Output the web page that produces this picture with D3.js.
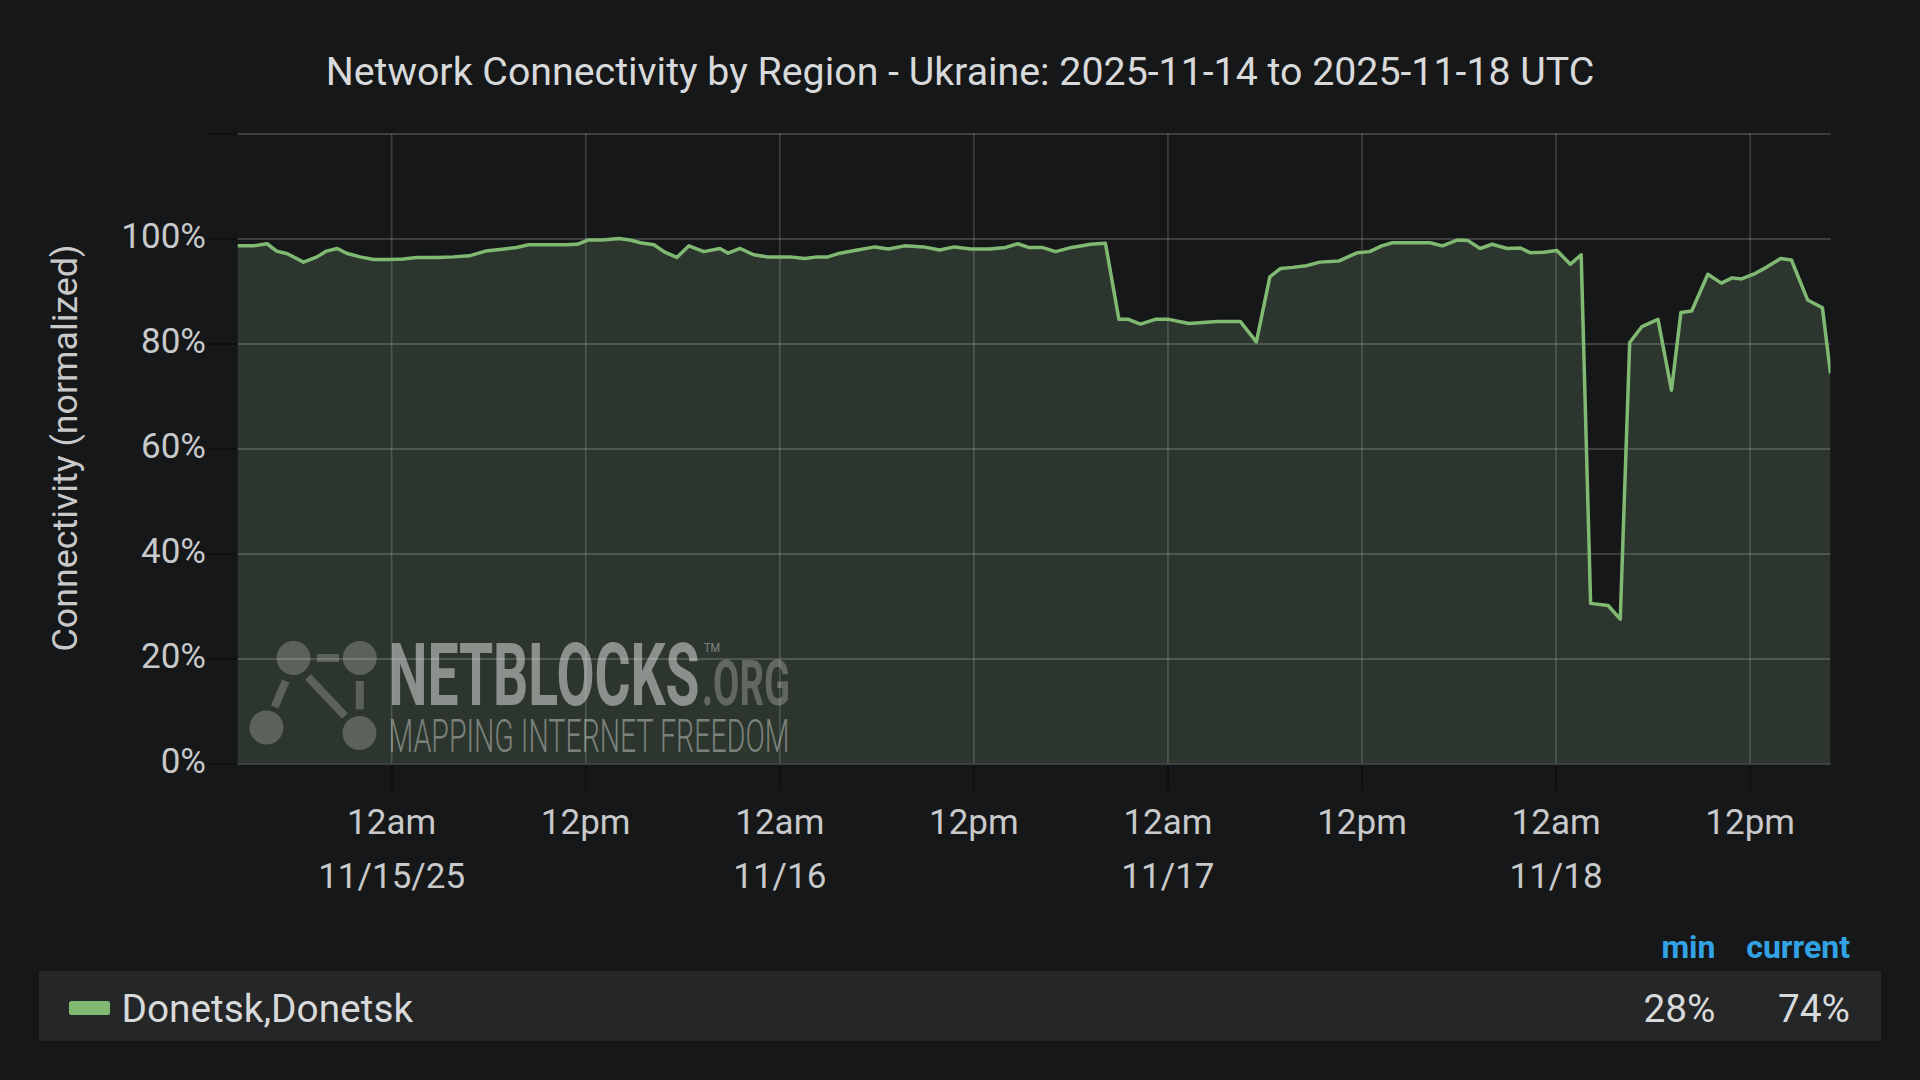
<!DOCTYPE html>
<html><head><meta charset="utf-8">
<script src="https://cdn.jsdelivr.net/npm/d3@7"></script>
<style>
html,body{margin:0;padding:0;background:#161719;overflow:hidden;}
svg{display:block;}
text{font-family:Roboto,"Noto Sans",sans-serif;}
</style></head><body>
<svg id="chart" width="1920" height="1080"></svg>
<script>
// ---------- data ----------
const titleText = "Network Connectivity by Region - Ukraine: 2025-11-14 to 2025-11-18 UTC";
const yAxisTitle = "Connectivity (normalized)";
const seriesName = "Donetsk,Donetsk";
const legendHeaders = ["min", "current"];
const timeDomain = ["2025-11-14 14:30", "2025-11-18 17:00"];
const yTickValues = [0, 20, 40, 60, 80, 100, 120];
const yTickLabels = ["0%", "20%", "40%", "60%", "80%", "100%", ""];

const times = [
  "2025-11-14 14:30","2025-11-14 15:30","2025-11-14 16:20","2025-11-14 16:55","2025-11-14 17:35",
  "2025-11-14 18:35","2025-11-14 19:25","2025-11-14 20:00","2025-11-14 20:40","2025-11-14 21:15",
  "2025-11-14 22:05","2025-11-14 22:55","2025-11-14 23:55",
  "2025-11-15 00:45","2025-11-15 01:35","2025-11-15 02:50","2025-11-15 03:50","2025-11-15 04:50",
  "2025-11-15 05:50","2025-11-15 07:00","2025-11-15 07:45","2025-11-15 08:30","2025-11-15 09:50",
  "2025-11-15 10:45","2025-11-15 11:30","2025-11-15 12:10","2025-11-15 13:05","2025-11-15 14:05",
  "2025-11-15 14:45","2025-11-15 15:25","2025-11-15 16:15","2025-11-15 16:55","2025-11-15 17:40",
  "2025-11-15 18:25","2025-11-15 19:20","2025-11-15 20:20","2025-11-15 20:50","2025-11-15 21:35",
  "2025-11-15 22:25","2025-11-15 23:15",
  "2025-11-16 00:05","2025-11-16 00:40","2025-11-16 01:35","2025-11-16 02:20","2025-11-16 03:00",
  "2025-11-16 03:45","2025-11-16 04:50","2025-11-16 05:55","2025-11-16 06:45","2025-11-16 07:45",
  "2025-11-16 08:55","2025-11-16 09:55","2025-11-16 10:50","2025-11-16 11:50","2025-11-16 13:00",
  "2025-11-16 14:00","2025-11-16 14:45","2025-11-16 15:25","2025-11-16 16:15","2025-11-16 17:05",
  "2025-11-16 18:05","2025-11-16 19:15","2025-11-16 20:10","2025-11-16 21:00","2025-11-16 21:35",
  "2025-11-16 22:20","2025-11-16 23:15",
  "2025-11-17 00:05","2025-11-17 01:20","2025-11-17 03:05","2025-11-17 04:30","2025-11-17 05:30",
  "2025-11-17 06:20","2025-11-17 07:00","2025-11-17 07:45","2025-11-17 08:35","2025-11-17 09:25",
  "2025-11-17 10:35","2025-11-17 11:45","2025-11-17 12:30","2025-11-17 13:15","2025-11-17 13:55",
  "2025-11-17 16:15","2025-11-17 17:00","2025-11-17 17:55","2025-11-17 18:35","2025-11-17 19:20",
  "2025-11-17 20:05","2025-11-17 21:00","2025-11-17 21:50","2025-11-17 22:25","2025-11-17 23:15",
  "2025-11-18 00:05","2025-11-18 00:55","2025-11-18 01:35","2025-11-18 02:10","2025-11-18 03:15",
  "2025-11-18 04:00","2025-11-18 04:35","2025-11-18 05:20","2025-11-18 06:20","2025-11-18 07:10",
  "2025-11-18 07:45","2025-11-18 08:25","2025-11-18 09:25","2025-11-18 10:15","2025-11-18 10:55",
  "2025-11-18 11:30","2025-11-18 12:15","2025-11-18 13:05","2025-11-18 13:55","2025-11-18 14:35",
  "2025-11-18 15:35","2025-11-18 16:30","2025-11-18 17:00"
];
const values = [
  98.6,98.6,99.0,97.6,97.1,
  95.5,96.5,97.6,98.1,97.2,
  96.5,96.0,96.0,
  96.1,96.4,96.4,96.5,96.7,
  97.6,98.0,98.3,98.8,98.8,
  98.8,98.9,99.7,99.7,100.0,
  99.7,99.2,98.8,97.4,96.4,
  98.6,97.5,98.1,97.2,98.1,
  96.9,96.5,
  96.5,96.5,96.2,96.5,96.5,
  97.2,97.8,98.4,98.0,98.6,
  98.4,97.8,98.4,98.0,98.0,
  98.3,99.0,98.3,98.3,97.5,
  98.3,98.9,99.1,84.6,84.6,
  83.7,84.6,
  84.6,83.8,84.2,84.2,80.3,
  92.7,94.3,94.5,94.8,95.5,
  95.7,97.3,97.5,98.6,99.2,
  99.2,98.6,99.7,99.6,98.1,
  98.9,98.1,98.2,97.3,97.4,
  97.7,95.1,96.9,30.5,30.1,
  27.5,80.2,83.2,84.6,71.1,
  85.9,86.2,93.2,91.5,92.5,
  92.3,93.2,94.6,96.2,95.9,
  88.3,86.8,74.3
];

// ---------- setup ----------
const W = 1920, H = 1080;
const plot = {left: 237.5, right: 1830.5, top: 133.5, bottom: 763.5};
const lineColor = "#80b972";
const textColor = "#c8c9ca";

const parse = d3.utcParse("%Y-%m-%d %H:%M");
const data = times.map((t, i) => ({t: parse(t), v: values[i]}));

const x = d3.scaleUtc().domain(timeDomain.map(parse)).range([plot.left, plot.right]);
const y = d3.scaleLinear().domain([0, 120]).range([plot.bottom, plot.top]);

const svg = d3.select("#chart");
svg.append("rect").attr("width", W).attr("height", H).attr("fill", "#161719");

svg.append("defs").append("clipPath").attr("id", "clip")
  .append("rect").attr("x", plot.left).attr("y", plot.top)
  .attr("width", plot.right - plot.left).attr("height", plot.bottom - plot.top);

// title
svg.append("text").attr("x", 960).attr("y", 85).attr("text-anchor", "middle")
  .attr("font-size", 39.3).attr("fill", "#d8d9da").text(titleText);

// area fill
const area = d3.area().x(d => x(d.t)).y0(y(0)).y1(d => y(d.v));
svg.append("path").datum(data).attr("clip-path", "url(#clip)")
  .attr("d", area).attr("fill", "#2c362e");

// watermark
const wm = svg.append("g").attr("class", "watermark");
const logoFill = "rgba(255,255,255,0.22)";
[[293.5,658],[359.8,658],[266.5,727.5],[359.5,733]].forEach(c => {
  wm.append("circle").attr("cx", c[0]).attr("cy", c[1]).attr("r", 17).attr("fill", logoFill);
});
[[317,658,339,658],[285.7,681,274.6,707],[308,677,345,716],[359.8,681,359.8,709.5]].forEach(l => {
  wm.append("line").attr("x1", l[0]).attr("y1", l[1]).attr("x2", l[2]).attr("y2", l[3])
    .attr("stroke", logoFill).attr("stroke-width", 8);
});
wm.append("text").attr("x", 388.5).attr("y", 705).attr("font-size", 88).attr("font-weight", 700)
  .attr("textLength", 311).attr("lengthAdjust", "spacingAndGlyphs")
  .attr("fill", "rgba(255,255,255,0.45)").text("NETBLOCKS");
wm.append("text").attr("x", 704).attr("y", 651.5).attr("font-size", 12)
  .attr("textLength", 16).attr("lengthAdjust", "spacingAndGlyphs")
  .attr("fill", "rgba(255,255,255,0.4)").text("TM");
wm.append("text").attr("x", 702).attr("y", 705).attr("font-size", 63).attr("font-weight", 700)
  .attr("textLength", 88).attr("lengthAdjust", "spacingAndGlyphs")
  .attr("fill", "rgba(255,255,255,0.25)").text(".ORG");
wm.append("text").attr("x", 388.5).attr("y", 752).attr("font-size", 47).attr("font-weight", 300)
  .attr("textLength", 401).attr("lengthAdjust", "spacingAndGlyphs")
  .attr("fill", "rgba(255,255,255,0.38)").text("MAPPING INTERNET FREEDOM");

// outer dark ticks
svg.append("g").attr("transform", `translate(${plot.left},0)`)
  .call(d3.axisLeft(y).tickValues(yTickValues).tickSize(30).tickFormat(""))
  .call(g => g.select(".domain").remove())
  .call(g => g.selectAll("line").attr("stroke", "#0f1012").attr("stroke-width", 2));
svg.append("g").attr("transform", `translate(0,${plot.bottom})`)
  .call(d3.axisBottom(x).ticks(d3.utcHour.every(12)).tickSize(28).tickFormat(""))
  .call(g => g.select(".domain").remove())
  .call(g => g.selectAll("line").attr("stroke", "#0f1012").attr("stroke-width", 2));

// gridlines
const gridStroke = "rgba(255,255,255,0.17)";
svg.append("g").attr("transform", `translate(${plot.left},0)`)
  .call(d3.axisLeft(y).tickValues(yTickValues).tickSize(-(plot.right - plot.left)).tickFormat(""))
  .call(g => g.select(".domain").remove())
  .call(g => g.selectAll("line").attr("stroke", gridStroke).attr("stroke-width", 2));
svg.append("g").attr("transform", `translate(0,${plot.bottom})`)
  .call(d3.axisBottom(x).ticks(d3.utcHour.every(12)).tickSize(-(plot.bottom - plot.top)).tickFormat(""))
  .call(g => g.select(".domain").remove())
  .call(g => g.selectAll("line").attr("stroke", gridStroke).attr("stroke-width", 1.6));

// line
const line = d3.line().x(d => x(d.t)).y(d => y(d.v));
svg.append("path").datum(data).attr("clip-path", "url(#clip)")
  .attr("d", line).attr("fill", "none").attr("stroke", lineColor)
  .attr("stroke-width", 3.5).attr("stroke-linejoin", "round");

// y axis labels
svg.append("g").attr("transform", `translate(${plot.left},0)`)
  .call(d3.axisLeft(y).tickValues(yTickValues).tickSize(0).tickPadding(31.5)
    .tickFormat((d, i) => yTickLabels[i]))
  .call(g => g.select(".domain").remove())
  .call(g => g.selectAll("text").attr("font-size", 35).attr("fill", textColor)
    .attr("font-family", "Roboto").attr("dy", "0.27em"));

// y axis title
svg.append("text").attr("transform", "translate(65,448) rotate(-90)")
  .attr("text-anchor", "middle").attr("dominant-baseline", "central")
  .attr("font-size", 35.8).attr("fill", textColor).text(yAxisTitle);

// x axis labels
const fmtHour = d => d3.utcFormat("%-I%p")(d).toLowerCase();
const xTicks = x.ticks(d3.utcHour.every(12));
const firstMidnight = xTicks.find(d => d.getUTCHours() === 0);
const xg = svg.append("g").attr("transform", `translate(0,${plot.bottom})`)
  .call(d3.axisBottom(x).tickValues(xTicks).tickSize(0).tickPadding(46).tickFormat(fmtHour))
  .call(g => g.select(".domain").remove())
  .call(g => g.selectAll("text").attr("font-size", 35).attr("fill", textColor)
    .attr("font-family", "Roboto"));
xg.selectAll(".tick").each(function(d) {
  if (d.getUTCHours() !== 0) return;
  const fmt = (+d === +firstMidnight) ? d3.utcFormat("%-m/%-d/%y") : d3.utcFormat("%-m/%-d");
  d3.select(this).append("text").attr("y", 888.3 - plot.bottom).attr("text-anchor", "middle")
    .attr("font-size", 35).attr("fill", textColor).attr("font-family", "Roboto").text(fmt(d));
});

// legend
const minVal = d3.min(values), curVal = values[values.length - 1];
const fmtPct = v => Math.round(v) + "%";
svg.append("rect").attr("x", 39).attr("y", 971).attr("width", 1842).attr("height", 70).attr("fill", "#252628");
svg.append("rect").attr("x", 69).attr("y", 1001).attr("width", 41).attr("height", 14).attr("rx", 2.5)
  .attr("fill", lineColor);
svg.append("text").attr("x", 121.5).attr("y", 1022).attr("font-size", 38.8).attr("fill", "#d8d9da").text(seriesName);
const colX = [1715.5, 1850];
legendHeaders.forEach((h, i) => {
  svg.append("text").attr("x", colX[i]).attr("y", 958).attr("text-anchor", "end")
    .attr("font-size", 32).attr("font-weight", 700).attr("fill", "#33a2e5").text(h);
});
[minVal, curVal].forEach((v, i) => {
  svg.append("text").attr("x", colX[i]).attr("y", 1022).attr("text-anchor", "end")
    .attr("font-size", 38.8).attr("fill", "#d8d9da").text(fmtPct(v));
});
</script>
</body></html>
